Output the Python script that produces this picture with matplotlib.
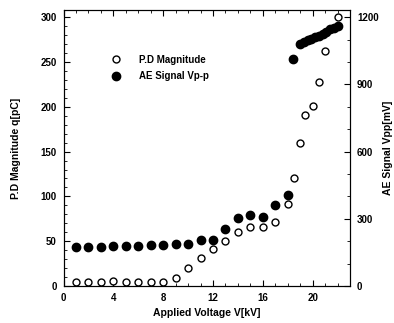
import numpy as np
import matplotlib.pyplot as plt
from matplotlib.ticker import MultipleLocator

# --- dati ---
v_pd = [1, 2, 3, 4, 5, 6, 7, 8, 9, 10, 11, 12, 13, 14, 15, 16, 17, 18,
        18.5, 19, 19.4, 20, 20.5, 21, 22]
pd_q = [5, 5, 5, 6, 5, 5, 5, 5, 9, 20, 31, 41, 50, 60, 66, 66, 71, 91,
        121, 160, 191, 201, 228, 262, 300]

v_ae = [1, 2, 3, 4, 5, 6, 7, 8, 9, 10, 11, 12, 13, 14, 15, 16, 17, 18,
        18.4, 19, 19.3, 19.6, 19.9, 20.2, 20.5, 20.8, 21.1, 21.4, 21.7, 22]
ae_vpp = [172, 174, 176, 178, 178, 180, 182, 182, 186, 188, 204, 204, 254,
          304, 316, 306, 360, 408, 1012, 1080, 1090, 1098, 1104, 1112, 1118,
          1126, 1134, 1146, 1152, 1160]

plt.rcParams['font.family'] = ['Liberation Sans', 'DejaVu Sans']
plt.rcParams['font.weight'] = 'bold'
plt.rcParams['font.size'] = 7

fig = plt.figure(figsize=(3.94, 3.23), dpi=100)
ax = fig.add_axes([63.5 / 394, 1 - 286 / 323, (350 - 63.5) / 394, (286 - 10) / 323])
ax2 = ax.twinx()

ax.plot(v_pd, pd_q, 'o', mfc='white', mec='black', mew=1.0, ms=5,
        label='P.D Magnitude', zorder=3)
ax2.plot(v_ae, ae_vpp, 'o', color='black', ms=6, label='AE Signal Vp-p')

ax.set_xlim(0, 23)
ax.set_ylim(0, 308)
ax2.set_ylim(0, 1232)

ax.xaxis.set_major_locator(MultipleLocator(4))
ax.xaxis.set_minor_locator(MultipleLocator(1))
ax.yaxis.set_major_locator(MultipleLocator(50))
ax.yaxis.set_minor_locator(MultipleLocator(10))
ax2.yaxis.set_major_locator(MultipleLocator(300))
ax2.yaxis.set_minor_locator(MultipleLocator(100))

ax.tick_params(which='both', direction='in', top=True, labelsize=7, pad=5)
ax.tick_params(which='major', length=4)
ax.tick_params(which='minor', length=2)
ax2.tick_params(which='both', direction='in', labelsize=7, pad=5)
ax2.tick_params(which='major', length=4)
ax2.tick_params(which='minor', length=2)

ax.set_xlabel('Applied Voltage V[kV]', fontsize=7.5, fontweight='bold', labelpad=4)
ax.set_ylabel('P.D Magnitude q[pC]', fontsize=7.5, fontweight='bold', labelpad=14)
ax2.set_ylabel('AE Signal Vpp[mV]', fontsize=7.5, fontweight='bold', labelpad=3)

h1, l1 = ax.get_legend_handles_labels()
h2, l2 = ax2.get_legend_handles_labels()
ax.legend(h1 + h2, l1 + l2, loc='upper left', bbox_to_anchor=(0.12, 0.87),
          frameon=False, fontsize=7, handletextpad=1.3, labelspacing=0.7)

fig.savefig('out.png', dpi=100)
